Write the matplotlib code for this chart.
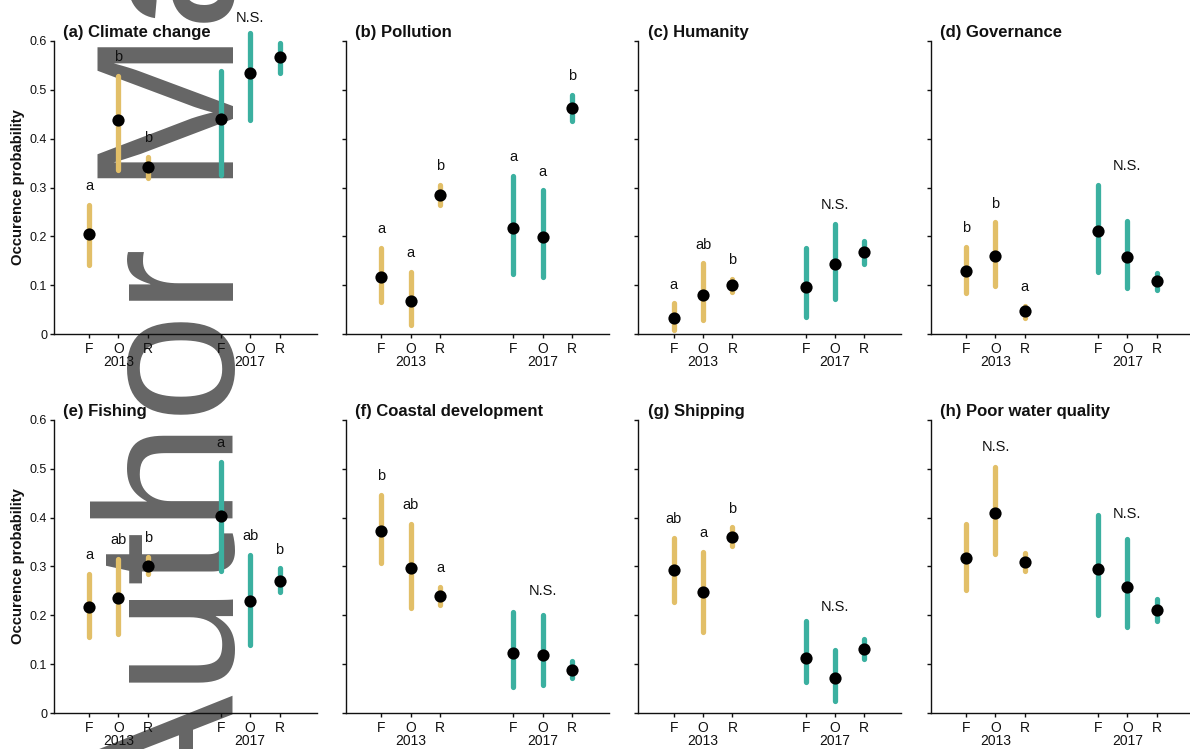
import matplotlib

matplotlib.use("Agg")
import matplotlib.pyplot as plt
from matplotlib.transforms import blended_transform_factory

plt.rcParams["font.family"] = ["Liberation Sans", "DejaVu Sans"]

TITLES = [
    "(a) Climate change", "(b) Pollution", "(c) Humanity", "(d) Governance",
    "(e) Fishing", "(f) Coastal development", "(g) Shipping", "(h) Poor water quality",
]
SITES = ["F", "O", "R"]
YEARS = ["2013", "2017"]
Y_TICKS = [0, 0.1, 0.2, 0.3, 0.4, 0.5, 0.6]
Y_TICK_LABELS = ["0", "0.1", "0.2", "0.3", "0.4", "0.5", "0.6"]

# posterior means and intervals, one row per panel, columns F / O / R
MEAN_2013 = [
    [0.205, 0.437, 0.342],
    [0.117, 0.068, 0.285],
    [0.034, 0.080, 0.101],
    [0.130, 0.160, 0.047],
    [0.218, 0.236, 0.302],
    [0.373, 0.297, 0.239],
    [0.293, 0.248, 0.361],
    [0.318, 0.409, 0.309],
]
LOW_2013 = [
    [0.142, 0.335, 0.319],
    [0.065, 0.019, 0.264],
    [0.009, 0.029, 0.087],
    [0.084, 0.099, 0.034],
    [0.155, 0.162, 0.284],
    [0.307, 0.215, 0.221],
    [0.228, 0.167, 0.341],
    [0.252, 0.325, 0.290],
]
HIGH_2013 = [
    [0.264, 0.528, 0.363],
    [0.176, 0.128, 0.305],
    [0.063, 0.145, 0.114],
    [0.179, 0.229, 0.058],
    [0.285, 0.315, 0.320],
    [0.446, 0.387, 0.259],
    [0.359, 0.330, 0.380],
    [0.386, 0.503, 0.328],
]
MEAN_2017 = [
    [0.440, 0.535, 0.566],
    [0.217, 0.199, 0.463],
    [0.096, 0.144, 0.168],
    [0.211, 0.157, 0.109],
    [0.403, 0.230, 0.270],
    [0.123, 0.119, 0.088],
    [0.114, 0.072, 0.132],
    [0.294, 0.258, 0.211],
]
LOW_2017 = [
    [0.326, 0.438, 0.535],
    [0.123, 0.118, 0.435],
    [0.035, 0.072, 0.144],
    [0.128, 0.094, 0.091],
    [0.290, 0.140, 0.247],
    [0.054, 0.058, 0.072],
    [0.063, 0.026, 0.111],
    [0.200, 0.176, 0.189],
]
HIGH_2017 = [
    [0.539, 0.615, 0.596],
    [0.324, 0.294, 0.489],
    [0.177, 0.226, 0.191],
    [0.305, 0.232, 0.126],
    [0.514, 0.324, 0.296],
    [0.206, 0.200, 0.106],
    [0.189, 0.129, 0.151],
    [0.405, 0.357, 0.234],
]
LETTERS_2013 = [
    ["a", "b", "b"], ["a", "a", "b"], ["a", "ab", "b"], ["b", "b", "a"],
    ["a", "ab", "b"], ["b", "ab", "a"], ["ab", "a", "b"], None,
]
LETTERS_2017 = [None, ["a", "a", "b"], None, None, ["a", "ab", "b"], None, None, None]
# height of the "N.S." note where a year group has no significant difference
NS_2013 = [None, None, None, None, None, None, None, 0.536]
NS_2017 = [0.639, None, 0.257, 0.336, None, 0.242, 0.210, 0.400]

GOLD = "#E2BF68"
TEAL = "#3BB0A0"
INK = "#111111"

W, H = 1190, 749
AX_LEFT = [53.5, 346, 638.3, 930.7]
AX_TOP = [40.7, 419.7]
AX_W, AX_H = 263, 293.6
POS = {"2013": [1, 2, 3], "2017": [5.5, 6.5, 7.5]}


def draw_group(ax, xs, mean, lo, hi, color, letters, ns):
    for x, m, a, b in zip(xs, mean, lo, hi):
        ax.plot([x, x], [a, b], color=color, lw=3.8, solid_capstyle="round", clip_on=False, zorder=2)
        ax.plot(x, m, "o", color="black", ms=8.8, mec="none", clip_on=False, zorder=3)
    if letters:
        for x, b, t in zip(xs, hi, letters):
            ax.text(x, b + 0.03, t, ha="center", va="baseline", fontsize=10.5, color=INK)
    if ns is not None:
        ax.text(xs[1], ns, "N.S.", ha="center", va="baseline", fontsize=10.5, color=INK)


fig = plt.figure(figsize=(W / 100, H / 100), dpi=100)
fig.patch.set_facecolor("white")

fig.text(234 / W, 1 - 825 / H, "Author Manuscript", rotation=90, rotation_mode="anchor",
         ha="left", va="baseline", fontsize=141, color="#656565", zorder=-1)

for i, title in enumerate(TITLES):
    row, col = divmod(i, 4)
    left = AX_LEFT[col] / W
    bottom = 1 - (AX_TOP[row] + AX_H) / H
    ax = fig.add_axes([left, bottom, AX_W / W, AX_H / H])
    ax.set_facecolor("none")

    draw_group(ax, POS["2013"], MEAN_2013[i], LOW_2013[i], HIGH_2013[i], GOLD, LETTERS_2013[i], NS_2013[i])
    draw_group(ax, POS["2017"], MEAN_2017[i], LOW_2017[i], HIGH_2017[i], TEAL, LETTERS_2017[i], NS_2017[i])

    ax.set_xlim(-0.21, 8.76)
    ax.set_ylim(0, 0.6)
    ax.set_xticks(POS["2013"] + POS["2017"])
    ax.set_xticklabels(SITES + SITES)
    ax.set_yticks(Y_TICKS)
    ax.set_yticklabels(Y_TICK_LABELS if col == 0 else [])
    for side in ["top", "right"]:
        ax.spines[side].set_visible(False)
    for side in ["left", "bottom"]:
        ax.spines[side].set_linewidth(1.0)
        ax.spines[side].set_color(INK)
    ax.tick_params(axis="x", length=3, width=1.0, pad=2.3, labelsize=10, colors=INK)
    ax.tick_params(axis="y", length=3, width=1.0, pad=1.5, labelsize=9, colors=INK)

    trans = blended_transform_factory(ax.transData, ax.transAxes)
    for year in YEARS:
        ax.text(POS[year][1], -0.108, year, transform=trans, ha="center", va="baseline", fontsize=10, color=INK)

    ax.text(0.035, 1.013, title, transform=ax.transAxes, ha="left", va="baseline",
            fontsize=12, fontweight="bold", color=INK)

    if col == 0:
        fig.text(18.5 / W, 1 - (AX_TOP[row] + AX_H / 2) / H, "Occurence probability", rotation=90,
                 ha="center", va="center", fontsize=10.7, fontweight="bold", color=INK)

fig.savefig("out.png", dpi=100)
